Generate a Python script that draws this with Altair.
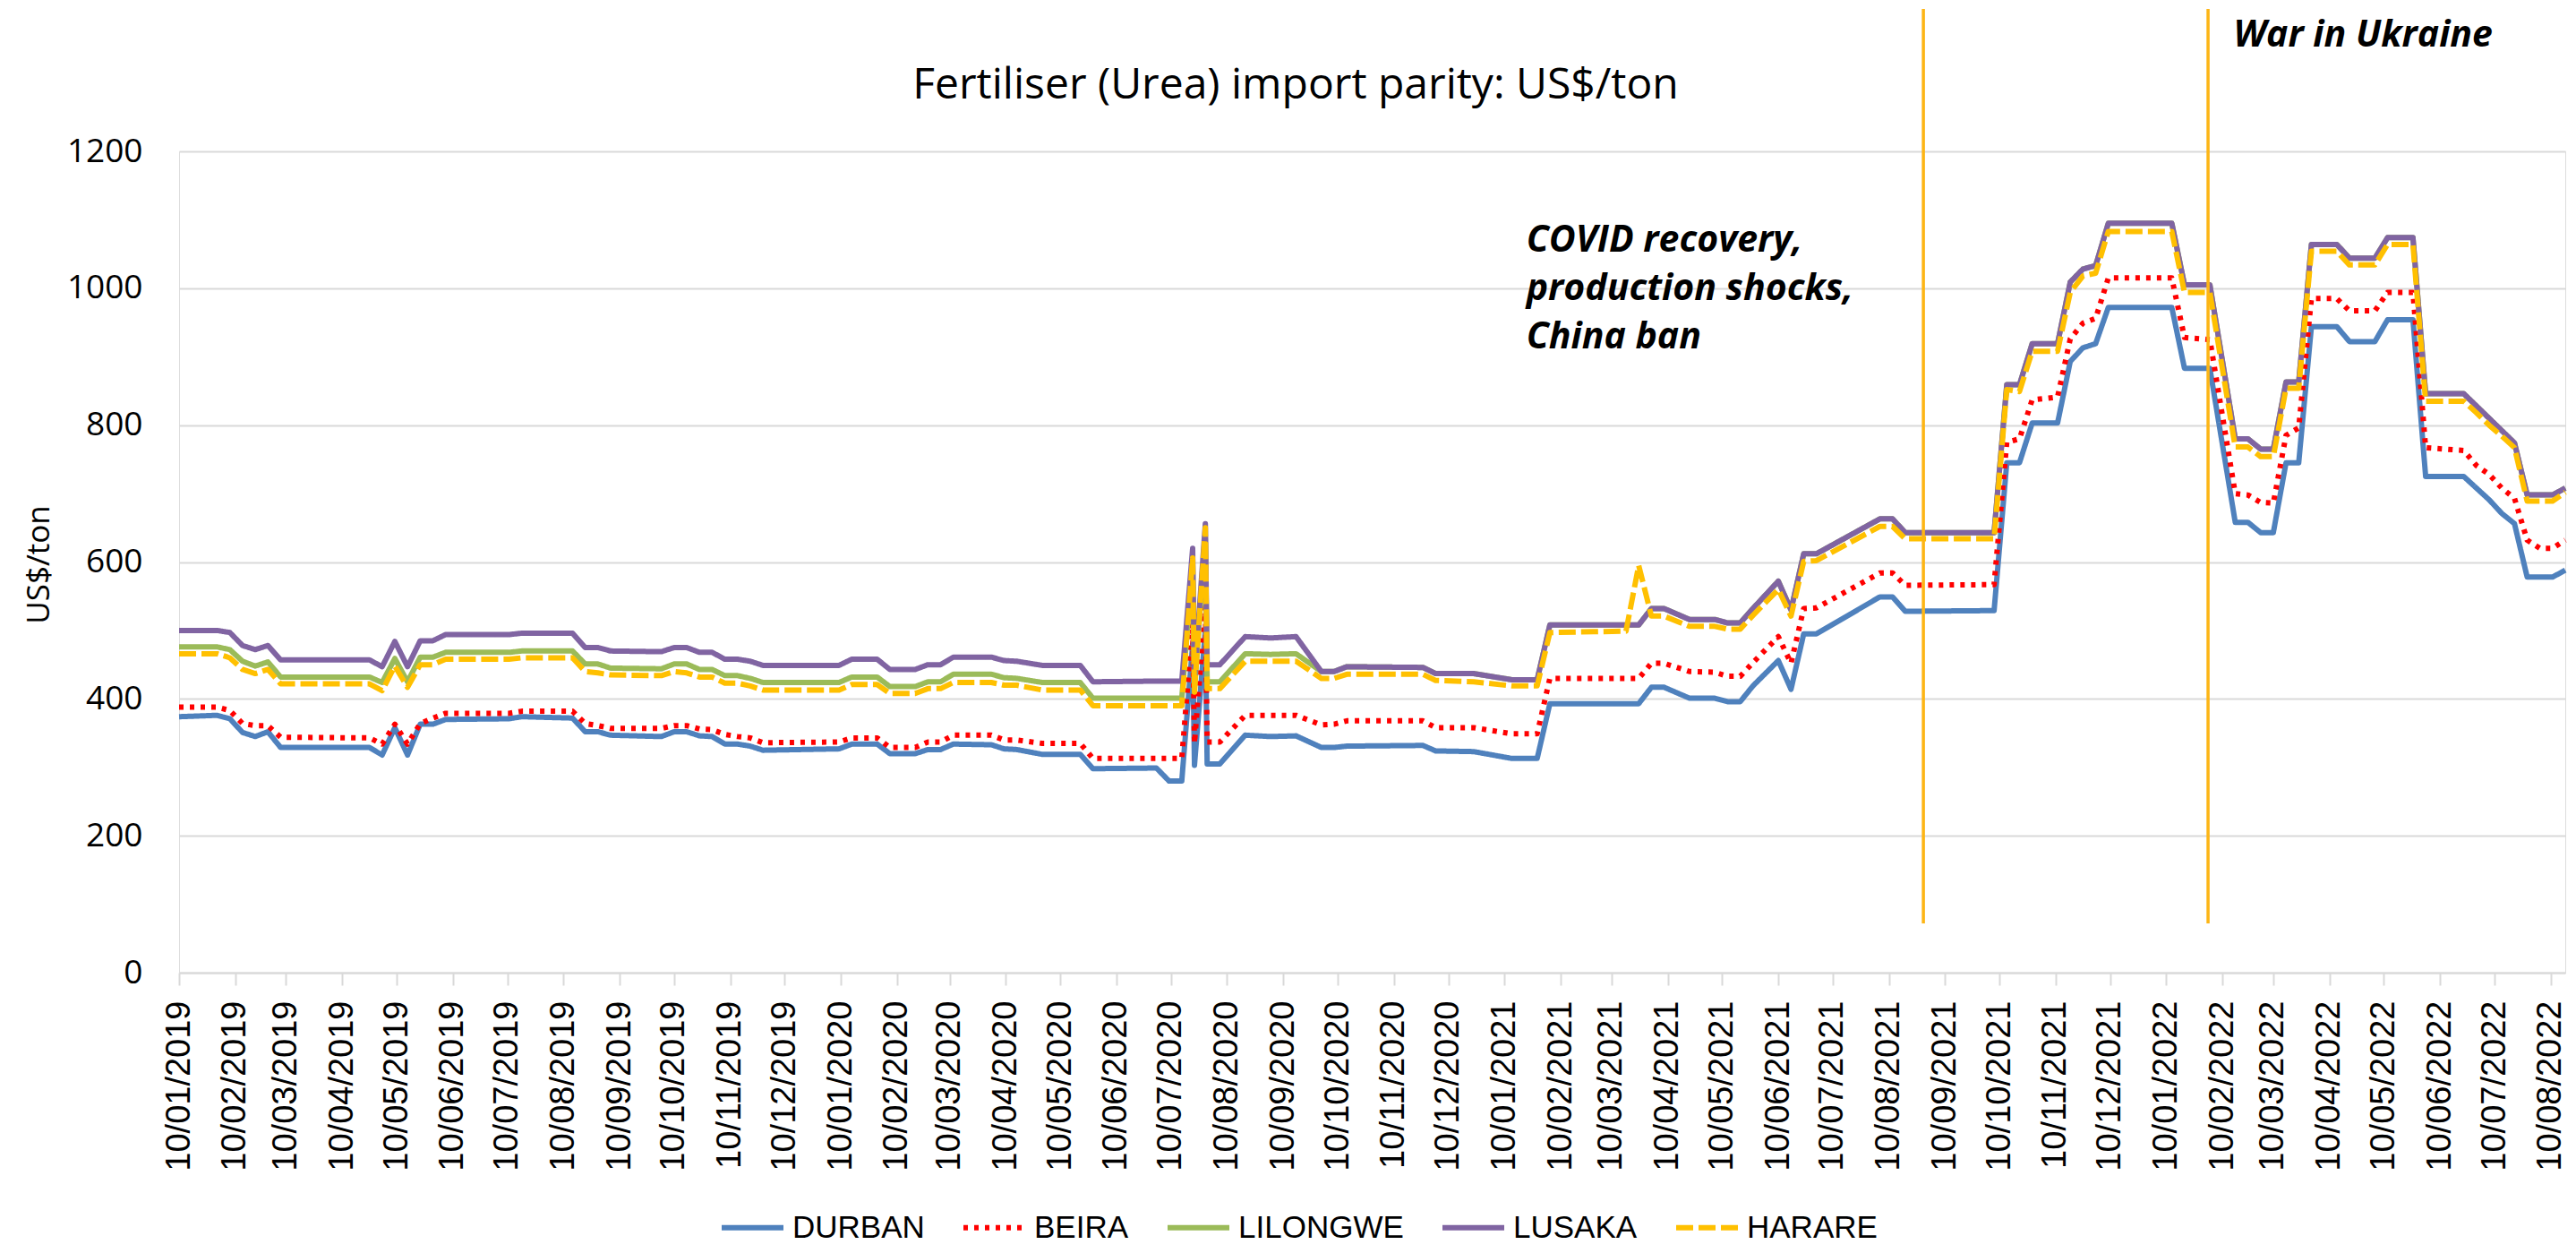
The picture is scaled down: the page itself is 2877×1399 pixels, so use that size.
import altair as alt
import pandas as pd

# ---------------- data ----------------
dates = [
    "2019-01-10", "2019-01-31", "2019-02-07", "2019-02-14", "2019-02-21", "2019-02-28",
    "2019-03-07", "2019-04-25", "2019-05-02", "2019-05-09", "2019-05-16", "2019-05-23",
    "2019-05-30", "2019-06-06", "2019-07-11", "2019-07-18", "2019-08-15", "2019-08-22",
    "2019-08-29", "2019-09-05", "2019-10-03", "2019-10-10", "2019-10-17", "2019-10-24",
    "2019-10-31", "2019-11-07", "2019-11-14", "2019-11-21", "2019-11-28", "2020-01-09",
    "2020-01-16", "2020-01-30", "2020-02-06", "2020-02-20", "2020-02-27", "2020-03-05",
    "2020-03-12", "2020-04-02", "2020-04-09", "2020-04-16", "2020-04-30", "2020-05-21",
    "2020-05-28", "2020-07-02", "2020-07-09", "2020-07-16", "2020-07-22", "2020-07-23",
    "2020-07-29", "2020-07-30", "2020-08-06", "2020-08-20", "2020-09-03", "2020-09-17",
    "2020-10-01", "2020-10-08", "2020-10-15", "2020-11-26", "2020-12-03", "2020-12-24",
    "2021-01-14", "2021-01-28", "2021-02-04", "2021-03-18", "2021-03-25", "2021-04-01",
    "2021-04-08", "2021-04-22", "2021-05-06", "2021-05-13", "2021-05-20", "2021-05-27",
    "2021-06-10", "2021-06-17", "2021-06-24", "2021-07-01", "2021-08-05", "2021-08-12",
    "2021-08-19", "2021-10-07", "2021-10-14", "2021-10-21", "2021-10-28", "2021-11-11",
    "2021-11-18", "2021-11-25", "2021-12-02", "2021-12-09", "2022-01-13", "2022-01-20",
    "2022-02-03", "2022-02-17", "2022-02-24", "2022-03-03", "2022-03-10", "2022-03-17",
    "2022-03-24", "2022-03-31", "2022-04-14", "2022-04-21", "2022-05-05", "2022-05-12",
    "2022-05-26", "2022-06-02", "2022-06-23", "2022-06-30", "2022-07-07", "2022-07-14",
    "2022-07-21", "2022-07-28", "2022-08-04", "2022-08-11", "2022-08-18",
]

durban = [
    374, 376, 371, 351, 345, 352, 329, 329, 318, 358, 318, 363,
    363, 370, 371, 374, 372, 352, 352, 347, 345, 352, 352, 346,
    345, 334, 334, 331, 325, 327, 334, 334, 320, 320, 326, 326,
    334, 333, 327, 326, 319, 319, 298, 299, 280, 280, 480, 303,
    500, 305, 305, 347, 345, 346, 329, 329, 331, 332, 324, 323,
    313, 313, 393, 393, 393, 417, 417, 401, 401, 396, 396, 419,
    456, 414, 495, 495, 549, 549, 528, 529, 745, 745, 803, 803,
    893, 913, 919, 972, 972, 883, 883, 658, 658, 643, 643, 745,
    745, 944, 944, 922, 922, 954, 954, 725, 725, 708, 691, 671,
    656, 578, 578, 578, 588,
]

beira = [
    388, 388, 383, 364, 361, 361, 344, 343, 334, 363, 334, 364,
    372, 379, 379, 382, 382, 364, 361, 357, 357, 361, 361, 356,
    355, 348, 345, 343, 336, 337, 343, 343, 329, 329, 337, 337,
    347, 347, 340, 340, 335, 335, 313, 313, 313, 313, 510, 335,
    535, 337, 337, 376, 376, 376, 362, 363, 368, 368, 358, 358,
    349, 349, 430, 430, 430, 452, 452, 440, 439, 433, 433, 453,
    491, 452, 532, 533, 584, 584, 566, 567, 775, 780, 837, 841,
    926, 949, 956, 1015, 1015, 928, 925, 700, 698, 687, 686, 785,
    796, 985, 985, 967, 967, 994, 994, 767, 763, 741, 728, 708,
    693, 632, 620, 620, 632,
]

lilongwe = [
    476, 476, 472, 455, 448, 454, 432, 432, 424, 459, 425, 461,
    461, 468, 468, 470, 470, 451, 451, 445, 444, 451, 451, 443,
    443, 434, 434, 430, 424, 424, 432, 432, 418, 418, 425, 425,
    436, 436, 431, 430, 424, 424, 401, 401, 401, 401, 598, 415,
    635, 425, 425, 466, 465, 466, 440, 440, 447, 446, 437, 437,
    428, 428, 508, 508, 508, 532, 532, 516, 516, 511, 511, 532,
    572, 530, 612, 612, 663, 663, 643, 643, 859, 859, 919, 919,
    1009, 1028, 1033, 1095, 1095, 1005, 1005, 780, 780, 765, 765, 863,
    863, 1064, 1064, 1044, 1044, 1074, 1074, 846, 846, 828, 810, 792,
    774, 698, 698, 698, 708,
]

lusaka = [
    500, 500, 497, 478, 472, 478, 457, 457, 447, 484, 447, 485,
    485, 494, 494, 496, 496, 475, 475, 470, 469, 475, 475, 468,
    468, 458, 458, 455, 449, 449, 458, 458, 443, 443, 450, 450,
    461, 461, 456, 455, 449, 449, 425, 426, 426, 426, 620, 430,
    656, 450, 450, 491, 489, 491, 440, 440, 447, 446, 437, 437,
    428, 428, 508, 508, 508, 532, 532, 516, 516, 511, 511, 532,
    572, 530, 612, 612, 663, 663, 643, 643, 859, 859, 919, 919,
    1009, 1028, 1033, 1095, 1095, 1005, 1005, 780, 780, 765, 765, 863,
    863, 1064, 1064, 1044, 1044, 1074, 1074, 846, 846, 828, 810, 792,
    774, 698, 698, 698, 708,
]

harare = [
    466, 466, 460, 443, 437, 443, 422, 422, 412, 448, 417, 450,
    450, 458, 458, 460, 460, 440, 438, 435, 434, 440, 438, 432,
    432, 423, 423, 419, 413, 413, 421, 421, 408, 408, 415, 415,
    424, 424, 420, 420, 413, 413, 390, 390, 390, 390, 606, 410,
    650, 415, 415, 455, 455, 455, 430, 430, 436, 436, 427, 425,
    419, 419, 497, 499, 595, 521, 521, 506, 506, 502, 502, 522,
    560, 521, 601, 602, 652, 652, 634, 634, 852, 849, 908, 908,
    994, 1018, 1022, 1083, 1083, 994, 994, 768, 768, 754, 754, 854,
    854, 1054, 1054, 1034, 1034, 1064, 1064, 835, 835, 818, 800, 784,
    767, 689, 689, 689, 702,
]

series_names = ["DURBAN", "BEIRA", "LILONGWE", "LUSAKA", "HARARE"]
series_values = [durban, beira, lilongwe, lusaka, harare]
series_colors = ["#4F81BD", "#FF0000", "#9BBB59", "#8064A2", "#FFC000"]
series_dashes = [[1, 0], [5, 7], [1, 0], [1, 0], [19, 6]]

y_title = "US$/ton"
y_ticks = [0, 200, 400, 600, 800, 1000, 1200]
tick_months = [(y, m) for y in range(2019, 2023) for m in range(1, 13) if (y, m) <= (2022, 8)]

event_dates = ["2021-08-29", "2022-02-02"]
event_low = [72, 72]
event_high = [1408, 1408]

note_text = ["COVID recovery,", "production shocks,", "China ban", "War in Ukraine"]
note_date = ["2021-01-22", "2021-01-22", "2021-01-22", "2022-02-16"]
note_value = [1069, 999, 928, 1369]

# ---------------- tables ----------------
rows = []
for name, vals in zip(series_names, series_values):
    for d, v in zip(dates, vals):
        rows.append({"date": d, "series": name, "value": v})
df = pd.DataFrame(rows)

events = pd.DataFrame({"date": event_dates, "low": event_low, "high": event_high})
notes = pd.DataFrame({"date": note_date, "value": note_value, "text": note_text})

# ---------------- chart ----------------
x_scale = alt.Scale(
    type="utc",
    domain=[alt.DateTime(year=2019, month=1, date=10, utc=True),
            alt.DateTime(year=2022, month=8, date=18, utc=True)],
)
y_scale = alt.Scale(domain=[0, 1200], nice=False, zero=True)

x_axis = alt.Axis(
    values=[alt.DateTime(year=y, month=m, date=10, utc=True) for (y, m) in tick_months],
    format="%d/%m/%Y",
    labelAngle=270,
    labelFont="Liberation Sans",
    labelFontSize=38,
    labelColor="black",
    labelPadding=17,
    labelFlush=False,
    labelOverlap=False,
    labelLimit=0,
    tickSize=14,
    tickColor="#D9D9D9",
    tickWidth=2,
    domainColor="#D9D9D9",
    domainWidth=2,
    grid=False,
    title=None,
)

y_axis = alt.Axis(
    values=y_ticks,
    format="d",
    labelFont="Open Sans",
    labelFontSize=37,
    labelColor="black",
    labelPadding=41,
    ticks=False,
    tickSize=0,
    domain=False,
    grid=True,
    gridColor="#D9D9D9",
    gridWidth=2,
    title=y_title,
    titleFont="Open Sans",
    titleFontSize=35,
    titleFontWeight="normal",
    titleColor="black",
    titleAngle=270,
    titleX=-139,
    titleY=461,
    titleAlign="center",
    titleBaseline="bottom",
)

legend = alt.Legend(
    title=None,
    orient="none",
    legendX=603,
    legendY=1164,
    direction="horizontal",
    columns=5,
    symbolType="stroke",
    symbolSize=4761,
    symbolStrokeWidth=6,
    labelFont="Liberation Sans",
    labelFontSize=35,
    labelColor="black",
    labelOffset=7,
    labelLimit=0,
    columnPadding=31,
    padding=0,
)

lines = alt.Chart(df).mark_line(strokeWidth=6, strokeJoin="round").encode(
    x=alt.X("date:T", scale=x_scale, axis=x_axis, title=None),
    y=alt.Y("value:Q", scale=y_scale, axis=y_axis, title=y_title),
    color=alt.Color("series:N", scale=alt.Scale(domain=series_names, range=series_colors), legend=legend),
    strokeDash=alt.StrokeDash("series:N", scale=alt.Scale(domain=series_names, range=series_dashes), legend=legend),
)

rules = alt.Chart(events).mark_rule(color="#FDB515", strokeWidth=3.5).encode(
    x=alt.X("date:T", title=None),
    y=alt.Y("low:Q", title=y_title),
    y2="high:Q",
)

texts = alt.Chart(notes).mark_text(
    align="left", baseline="middle", font="Open Sans", fontSize=41,
    fontStyle="italic", fontWeight="bold", color="black",
).encode(
    x=alt.X("date:T", title=None),
    y=alt.Y("value:Q", title=y_title),
    text="text:N",
)

chart = alt.layer(lines, rules, texts).properties(
    width=2665,
    height=917,
    autosize=alt.AutoSizeParams(type="none"),
    padding={"left": 192, "top": 161, "right": 4, "bottom": 305},
    title=alt.TitleParams(
        text="Fertiliser (Urea) import parity: US$/ton",
        font="Open Sans",
        fontSize=48,
        fontWeight="normal",
        color="black",
        anchor="middle",
        frame="bounds",
        baseline="alphabetic",
        offset=0,
        dy=150,
        dx=0,
    ),
).configure_view(stroke=None).configure(background="white")

chart.save("out.html", embed_options={"renderer": "svg", "actions": False})
